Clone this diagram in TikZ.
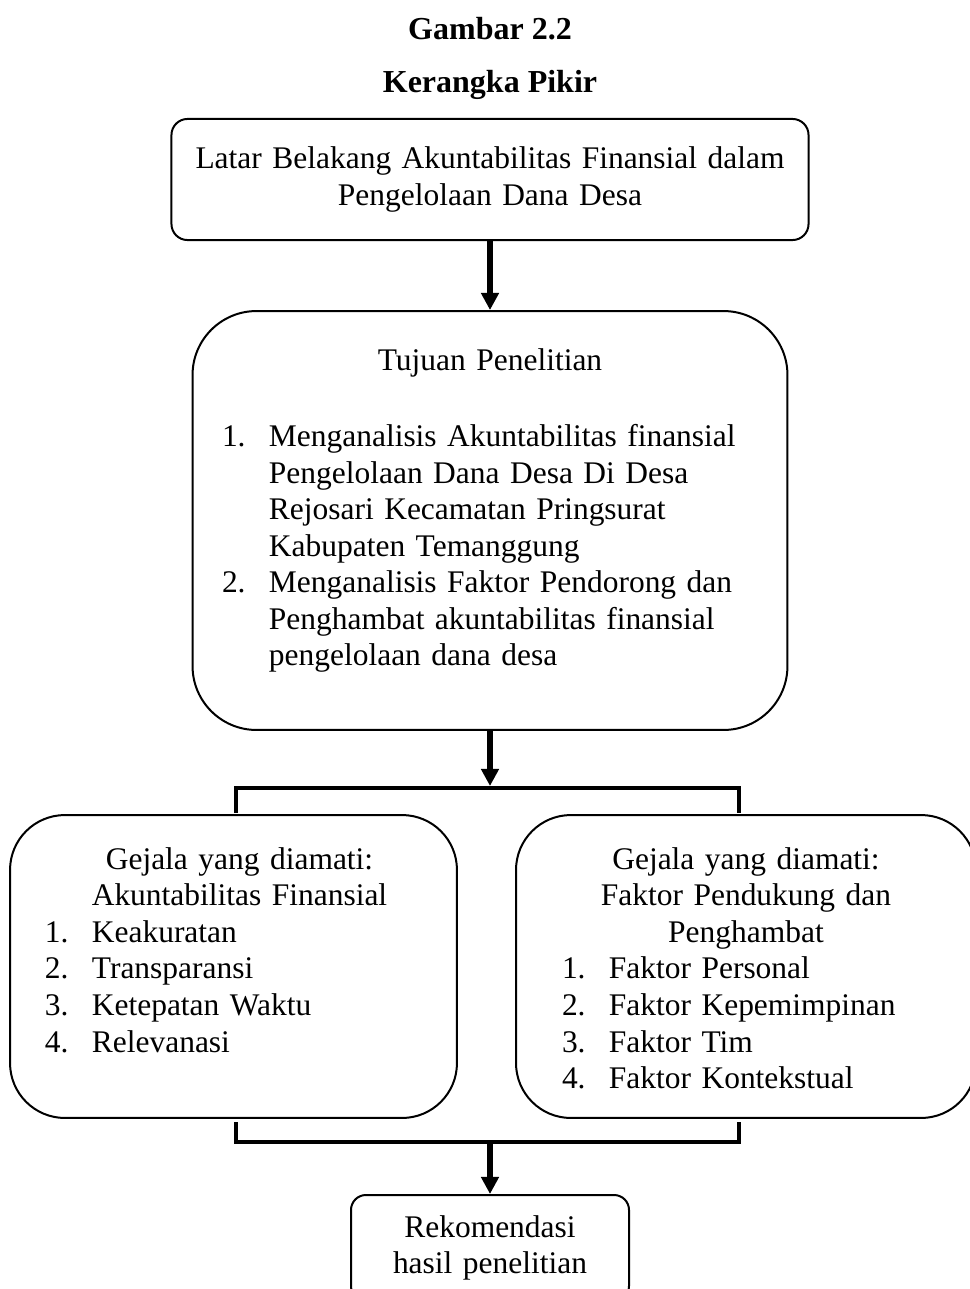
\documentclass[tikz,border=0pt]{standalone}
\usepackage{fontspec}
\setmainfont{Liberation Serif}
\usetikzlibrary{arrows.meta}

\begin{document}
\begin{tikzpicture}[x=0.375pt,y=-0.375pt,font=\fontsize{11.8}{13.7}\selectfont,
        kotak/.style={draw,line width=0.75pt,align=center,inner sep=0pt},
        panah/.style={line width=2.4pt,-{Triangle[length=6.4pt,width=6.4pt]}},
        kurung/.style={line width=1.5pt}]
            \useasboundingbox (0,0) rectangle (969,1289);

            \node[anchor=base,font=\fontsize{12}{13.7}\selectfont\bfseries] (judul)    at (490,39.5) {Gambar 2.2};
            \node[anchor=base,font=\fontsize{12}{13.7}\selectfont\bfseries] (subjudul) at (490,92.5) {Kerangka Pikir};

            \node[kotak, rounded corners=6pt, minimum width=238.9pt, minimum height=45.4pt, text width=230pt]
                (latar) at (490,179.5)
                {Latar Belakang Akuntabilitas Finansial dalam\\ Pengelolaan Dana Desa};

            \node[kotak, rounded corners=24pt, minimum width=223.1pt, minimum height=157.1pt, text width=210pt]
                (tujuan) at (490,520.5)
                {Tujuan Penelitian\\[14.8pt]
                 \begin{tabular}[t]{@{}p{17.6pt}@{}p{183.4pt}@{}}
                 1. & Menganalisis Akuntabilitas finansial\\
                    & Pengelolaan Dana Desa Di Desa\\
                    & Rejosari Kecamatan Pringsurat\\
                    & Kabupaten Temanggung\\
                 2. & Menganalisis Faktor Pendorong dan\\
                    & Penghambat akuntabilitas finansial\\
                    & pengelolaan dana desa\\[-7.9pt]
                    &
                 \end{tabular}};

            \node[kotak, rounded corners=20.6pt, minimum width=167.6pt, minimum height=113.6pt, text width=150pt]
                (gejalaA) at (233.5,966.5)
                {\hspace*{4.5pt}Gejala yang diamati:\\ \hspace*{4.5pt}Akuntabilitas Finansial\\
                 \begin{tabular}[t]{@{}p{17.6pt}@{}p{123.8pt}@{}}
                 1. & Keakuratan\\
                 2. & Transparansi\\
                 3. & Ketepatan Waktu\\
                 4. & Relevanasi\\[-5.25pt]
                    &
                 \end{tabular}};

            \node[kotak, rounded corners=20.6pt, minimum width=172.5pt, minimum height=113.6pt, text width=150pt]
                (gejalaB) at (746,966.5)
                {Gejala yang diamati:\\ Faktor Pendukung dan\\ Penghambat\\
                 \begin{tabular}[t]{@{}p{17.6pt}@{}p{120.4pt}@{}}
                 1. & Faktor Personal\\
                 2. & Faktor Kepemimpinan\\
                 3. & Faktor Tim\\
                 4. & Faktor Kontekstual\\[-5.25pt]
                 \end{tabular}};

            \node[kotak, rounded corners=5.6pt, minimum width=104.25pt, minimum height=39.75pt, text width=95pt]
                (rekom) at (490,1248)
                {Rekomendasi\\ hasil penelitian};

            % kurung atas dan bawah
            \coordinate (kiriAtas)    at (236,813);
            \coordinate (kananAtas)   at (739,813);
            \coordinate (tengahAtas)  at (490,788);
            \coordinate (kiriBawah)   at (236,1122);
            \coordinate (kananBawah)  at (739,1122);
            \coordinate (tengahBawah) at (490,1142);

            \draw[kurung] (kiriAtas) |- (tengahAtas) -| (kananAtas);
            \draw[kurung] (kiriBawah) |- (tengahBawah) -| (kananBawah);

            \draw[panah] (latar.south) -- (tujuan.north);
            \draw[panah, shorten >=0.75pt] (tujuan.south) -- (tengahAtas);
            \draw[panah] (tengahBawah) -- (rekom.north);
        \end{tikzpicture}
\end{document}
